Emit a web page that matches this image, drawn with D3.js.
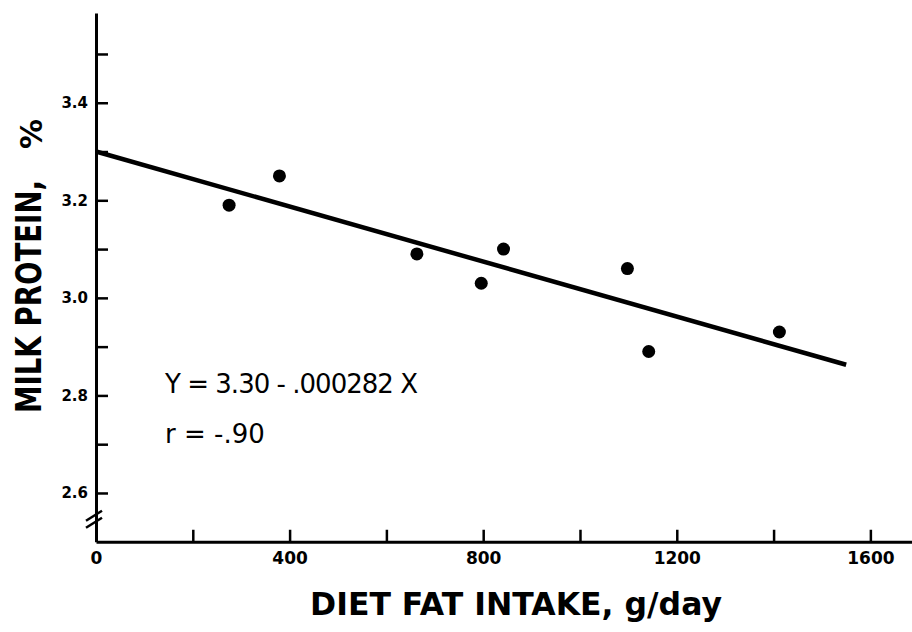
<!DOCTYPE html>
<html>
<head>
<meta charset="utf-8">
<script src="https://cdn.jsdelivr.net/npm/d3@7"></script>
<style>
  body { margin: 0; background: #fff; }
  svg { display: block; font-family: "DejaVu Sans", sans-serif; }
</style>
</head>
<body>
<svg width="912" height="632"></svg>
<script>
// readings
var fatIntake   = [275, 379, 663, 796, 842, 1098, 1142, 1412];
var milkProtein = [3.19, 3.25, 3.09, 3.03, 3.10, 3.06, 2.89, 2.93];

var xTicks = [0, 200, 400, 600, 800, 1000, 1200, 1400, 1600];
var xTickLabels = [0, 400, 800, 1200, 1600];
var yTicks = [2.6, 2.7, 2.8, 2.9, 3.0, 3.1, 3.2, 3.3, 3.4, 3.5];
var yTickLabels = ["2.6", "2.8", "3.0", "3.2", "3.4"];

var fitIntercept = 3.30,
    fitSlope = -0.000282,
    fitRange = [0, 1550];

var svg = d3.select("svg");

var x = d3.scaleLinear().domain([0, 1686]).range([96, 912]);
var y = d3.scaleLinear().domain([2.5, 3.584]).range([541.75, 13]);

var data = fatIntake.map((f, i) => ({ fat: f, protein: milkProtein[i] }));

// x axis
var gx = svg.append("g")
    .attr("transform", "translate(0," + y(2.5) + ")")
    .call(d3.axisBottom(x)
        .tickValues(xTicks)
        .tickSize(-12)
        .tickSizeOuter(0)
        .tickPadding(10)
        .tickFormat(d => xTickLabels.indexOf(d) >= 0 ? d : ""));
gx.attr("font-family", null).attr("font-size", null);
gx.select(".domain").attr("stroke-width", 3);
gx.selectAll(".tick line").attr("stroke-width", 2.5);
gx.selectAll(".tick").filter(d => d === 0).select("line").remove();
gx.selectAll("text")
    .attr("fill", "#000")
    .style("font-size", "17px")
    .style("font-weight", "bold");

// y axis
var gy = svg.append("g")
    .attr("transform", "translate(" + x(0) + ",0)")
    .call(d3.axisLeft(y)
        .tickValues(yTicks)
        .tickSize(-12)
        .tickSizeOuter(0)
        .tickPadding(8)
        .tickFormat(d => {
            var s = d3.format(".1f")(d);
            return yTickLabels.indexOf(s) >= 0 ? s : "";
        }));
gy.attr("font-family", null).attr("font-size", null);
gy.select(".domain").attr("stroke-width", 3);
gy.selectAll(".tick line").attr("stroke-width", 2.5);
gy.selectAll("text")
    .attr("fill", "#000")
    .style("font-size", "15px")
    .style("font-weight", "bold");

// axis break marks
var brk = svg.append("g").attr("stroke", "#000").attr("stroke-width", 2.5);
[0, 7].forEach(off => {
    brk.append("line")
        .attr("x1", x(0) - 10).attr("y1", y(2.5) - 14 - off)
        .attr("x2", x(0) + 6).attr("y2", y(2.5) - 24 - off);
});

// regression line
var line = d3.line()
    .x(d => x(d))
    .y(d => y(fitIntercept + fitSlope * d));

svg.append("path")
    .datum(fitRange)
    .attr("fill", "none")
    .attr("stroke", "#000")
    .attr("stroke-width", 4.5)
    .attr("d", line);

// points
svg.append("g")
    .selectAll("circle")
    .data(data)
    .join("circle")
    .attr("cx", d => x(d.fat))
    .attr("cy", d => y(d.protein))
    .attr("r", 6.5)
    .attr("fill", "#000");

// equation
svg.append("text")
    .attr("x", 165).attr("y", 393)
    .style("font-size", "26px")
    .attr("textLength", 253)
    .text("Y = 3.30 - .000282 X");

svg.append("text")
    .attr("x", 165).attr("y", 443)
    .style("font-size", "26px")
    .text("r = -.90");

// axis titles
svg.append("text")
    .attr("x", 516).attr("y", 615)
    .attr("text-anchor", "middle")
    .style("font-size", "31.5px")
    .style("font-weight", "bold")
    .text("DIET FAT INTAKE, g/day");

svg.append("text")
    .attr("transform", "translate(41,413) rotate(-90)")
    .style("font-size", "36px")
    .style("font-weight", "bold")
    .attr("textLength", 233)
    .attr("lengthAdjust", "spacingAndGlyphs")
    .text("MILK PROTEIN,");

svg.append("text")
    .attr("transform", "translate(42,149) rotate(-90)")
    .style("font-size", "30px")
    .style("font-weight", "bold")
    .text("%");
</script>
</body>
</html>
